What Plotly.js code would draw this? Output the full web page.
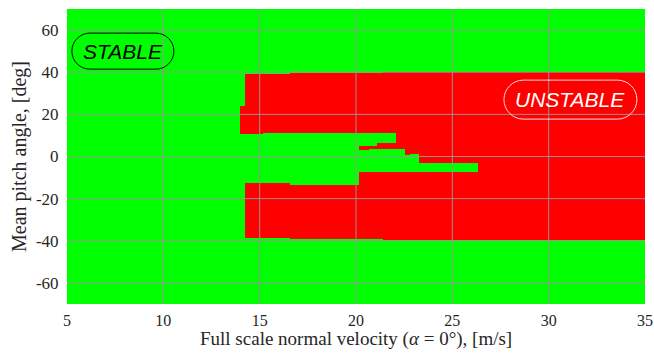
<!DOCTYPE html>
<html>
<head>
<meta charset="utf-8">
<script src="https://cdn.plot.ly/plotly-3.0.1.min.js"></script>
<style>html,body{margin:0;padding:0;background:#fff;}#chart{width:654px;height:354px;}</style>
</head>
<body>
<div id="chart"></div>
<script>
// Velocity column edges [m/s]
const velocityEdges = [5, 13.98, 14.24, 15.17, 16.6, 20.16, 20.67, 21.1, 21.38, 22.07, 22.55, 22.8, 23.25, 26.33, 35];
// Unstable (red) pitch-angle bands [deg] for each velocity column
const unstableBands = [
  [],
  [[10.5, 23.9]],
  [[-38.5, -12.6], [10.5, 39]],
  [[-38.5, -12.6], [11, 39]],
  [[-39, -13.3], [11, 39.5]],
  [[-39, -7.5], [3.2, 5.1], [11, 39.5]],
  [[-39, -7.5], [3.5, 5.1], [11, 39.5]],
  [[-39, -7.5], [3.5, 6.2], [11, 39.5]],
  [[-39.6, -7.5], [3.5, 6.2], [11, 40]],
  [[-39.6, -7.5], [3.5, 40]],
  [[-39.6, -7.5], [0.6, 40]],
  [[-39.6, -7.5], [1.0, 40]],
  [[-39.6, -7.5], [-3.1, 40]],
  [[-39.6, 40]]
];
const xTickVals = [5, 10, 15, 20, 25, 30, 35];
const yTickVals = [-60, -40, -20, 0, 20, 40, 60];
const yTickText = ['-60', '-40', '-20', '0', '20', '40', '60'];

// Build pitch edges and stability matrix
const pSet = new Set([-70, 70]);
unstableBands.forEach(col => col.forEach(b => { pSet.add(b[0]); pSet.add(b[1]); }));
const pitchEdges = Array.from(pSet).sort((a, b) => a - b);
const z = [];
for (let r = 0; r < pitchEdges.length - 1; r++) {
  const mid = (pitchEdges[r] + pitchEdges[r + 1]) / 2;
  const row = [];
  for (let c = 0; c < velocityEdges.length - 1; c++) {
    row.push(unstableBands[c].some(b => mid > b[0] && mid < b[1]) ? 1 : 0);
  }
  z.push(row);
}

const trace = {
  type: 'heatmap',
  x: velocityEdges,
  y: pitchEdges,
  z: z,
  zmin: 0, zmax: 1,
  colorscale: [[0, '#00ff00'], [0.5, '#00ff00'], [0.5, '#ff0000'], [1, '#ff0000']],
  showscale: false,
  zsmooth: false,
  hoverinfo: 'skip'
};

const gridColor = 'rgba(150,150,150,0.95)';
const shapes = [];
xTickVals.slice(1, -1).forEach(v => shapes.push({
  type: 'line', xref: 'x', yref: 'paper', x0: v, x1: v, y0: 0, y1: 1,
  line: {color: gridColor, width: 1}, layer: 'above'
}));
yTickVals.forEach(v => shapes.push({
  type: 'line', xref: 'paper', yref: 'y', x0: 0, x1: 1, y0: v, y1: v,
  line: {color: gridColor, width: 1}, layer: 'above'
}));

function pill(w, h) {
  const r = h / 2, k = 0.5523 * r, a = w / 2 - r;
  return `M ${-a} ${-r} L ${a} ${-r} C ${a + k} ${-r} ${a + r} ${-k} ${a + r} 0 ` +
         `C ${a + r} ${k} ${a + k} ${r} ${a} ${r} L ${-a} ${r} ` +
         `C ${-a - k} ${r} ${-a - r} ${k} ${-a - r} 0 C ${-a - r} ${-k} ${-a - k} ${-r} ${-a} ${-r} Z`;
}
shapes.push({
  type: 'path', xref: 'x', yref: 'y', xsizemode: 'pixel', ysizemode: 'pixel',
  xanchor: 7.9, yanchor: 50, path: pill(102, 36),
  line: {color: '#000000', width: 1}, layer: 'above'
});
shapes.push({
  type: 'path', xref: 'x', yref: 'y', xsizemode: 'pixel', ysizemode: 'pixel',
  xanchor: 31.13, yanchor: 27, path: pill(133, 39),
  line: {color: 'rgba(255,255,255,0.85)', width: 1}, layer: 'above'
});

const serif = '"Liberation Serif", "DejaVu Serif", serif';
const tickFont = {family: serif, size: 16, color: '#262626'};
const titleFont = {family: serif, size: 19, color: '#262626'};

const layout = {
  width: 654, height: 354,
  margin: {l: 67, r: 9, t: 9, b: 50},
  paper_bgcolor: '#ffffff',
  plot_bgcolor: '#00ff00',
  showlegend: false,
  xaxis: {
    range: [5, 35], tickvals: xTickVals, ticktext: xTickVals.map(String),
    showgrid: false, zeroline: false, showline: false,
    ticks: 'outside', ticklen: 2, tickcolor: 'rgba(0,0,0,0)',
    tickfont: tickFont
  },
  yaxis: {
    range: [-70, 70], tickvals: yTickVals, ticktext: yTickText,
    showgrid: false, zeroline: false, showline: false,
    ticks: 'outside', ticklen: 4, tickcolor: 'rgba(0,0,0,0)',
    tickfont: {family: serif, size: 17, color: '#262626'},
    title: {text: 'Mean pitch angle, [deg]', font: {family: serif, size: 20, color: '#262626'}, standoff: 3}
  },
  shapes: shapes,
  annotations: [
    {x: 0.5, y: 0, xref: 'paper', yref: 'paper', yanchor: 'middle', yshift: -35,
     text: 'Full scale normal velocity (<i>α</i> = 0°), [m/s]', showarrow: false, font: titleFont},
    {x: 7.9, y: 50, xref: 'x', yref: 'y', text: '<i>STABLE</i>', showarrow: false,
     font: {family: '"Liberation Sans", Arial, sans-serif', size: 21, color: '#000000'}},
    {x: 31.13, y: 27, xref: 'x', yref: 'y', text: '<i>UNSTABLE</i>', showarrow: false,
     font: {family: '"Liberation Sans", Arial, sans-serif', size: 21, color: '#ffffff'}}
  ]
};

Plotly.newPlot('chart', [trace], layout, {displayModeBar: false, staticPlot: true});
</script>
</body>
</html>
